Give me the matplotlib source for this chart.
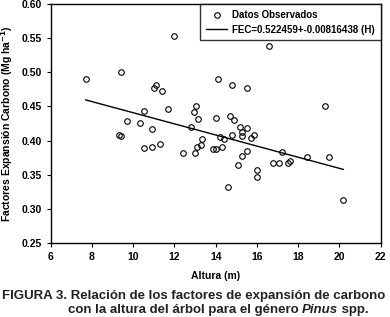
import matplotlib.pyplot as plt
import numpy as np

plt.rcParams['font.family'] = ['Liberation Sans', 'DejaVu Sans']

# observed points (height m, FEC)
altura = [7.70, 9.30, 9.40, 9.41, 9.71, 10.31, 10.52, 10.90, 10.52, 10.91,
          11.31, 11.01, 11.10, 11.40, 11.70, 12.00, 12.40, 12.79, 13.01, 13.11,
          13.27, 13.32, 13.04, 12.96, 13.16, 14.00, 14.13, 14.70, 14.88, 14.80,
          15.50, 16.58, 15.18, 15.50, 15.30, 15.30, 15.70, 15.88, 14.79, 14.21,
          14.41, 13.88, 14.00, 14.31, 15.50, 15.30, 15.10, 16.00, 16.00, 14.61,
          16.79, 17.05, 17.21, 17.52, 17.60, 18.41, 19.51, 20.19, 19.28]
fec = [0.490, 0.408, 0.407, 0.501, 0.429, 0.426, 0.443, 0.417, 0.389, 0.390,
       0.395, 0.477, 0.481, 0.473, 0.447, 0.553, 0.382, 0.420, 0.381, 0.391,
       0.393, 0.402, 0.451, 0.442, 0.432, 0.433, 0.490, 0.436, 0.430, 0.481,
       0.477, 0.539, 0.420, 0.418, 0.412, 0.406, 0.404, 0.408, 0.408, 0.405,
       0.402, 0.388, 0.388, 0.390, 0.385, 0.377, 0.364, 0.357, 0.347, 0.332,
       0.367, 0.367, 0.383, 0.367, 0.370, 0.376, 0.376, 0.312, 0.451]

b0 = 0.522459
b1 = -0.00816438
h_fit = np.array([min(altura), max(altura)])

fig = plt.figure(figsize=(3.9, 3.17), dpi=100)
ax = fig.add_axes([0.13, 0.2344, 0.846, 0.752])

ax.plot(altura, fec, 'o', mfc='none', mec='black', ms=4, mew=0.8,
        label='Datos Observados')
ax.plot(h_fit, b0 + b1 * h_fit, color='black', lw=1,
        label='FEC=0.522459+-0.00816438 (H)')

ax.set_xlim(6, 22)
ax.set_ylim(0.25, 0.60)
ax.set_xticks(np.arange(6, 23, 2))
ax.set_yticks(np.arange(0.25, 0.601, 0.05))
ax.set_yticklabels(['%.2f' % v for v in np.arange(0.25, 0.601, 0.05)])
ax.tick_params(labelsize=7.5, length=3, width=0.8)
for lab in ax.get_xticklabels() + ax.get_yticklabels():
    lab.set_fontweight('bold')
for s in ax.spines.values():
    s.set_linewidth(1)

ax.set_xlabel('Altura (m)', fontsize=7.5, fontweight='bold', labelpad=7)
ax.set_ylabel('Factores Expansión Carbono (Mg ha$^{\\mathbf{-1}}$)', fontsize=7.5,
              fontweight='bold')
ax.yaxis.set_label_coords(-0.108, 0.5)

leg = ax.legend(loc='upper right', prop={'weight': 'bold', 'size': 7},
                frameon=True, fancybox=False, edgecolor='black',
                borderaxespad=0.0, handlelength=2.2, borderpad=0.6,
                labelspacing=0.45, handletextpad=0.5)
leg.get_frame().set_linewidth(1)

# caption
cap_color = '#222222'
fig.text(0.005, 0.057, 'FIGURA 3. Relación de los factores de expansión de carbono',
         fontsize=9.5, fontweight='bold', color=cap_color, va='baseline')
fig.canvas.draw()
r = fig.canvas.get_renderer()
x0 = 0.174
parts = [('con la altura del árbol para el género ', 'normal'),
         ('Pinus', 'italic'), (' spp.', 'normal')]
for txt, style in parts:
    t = fig.text(x0, 0.012, txt, fontsize=9.5, fontweight='bold', style=style,
                 color=cap_color, va='baseline')
    bb = t.get_window_extent(renderer=r)
    x0 += bb.width / fig.bbox.width

plt.savefig('out.png', dpi=100)
